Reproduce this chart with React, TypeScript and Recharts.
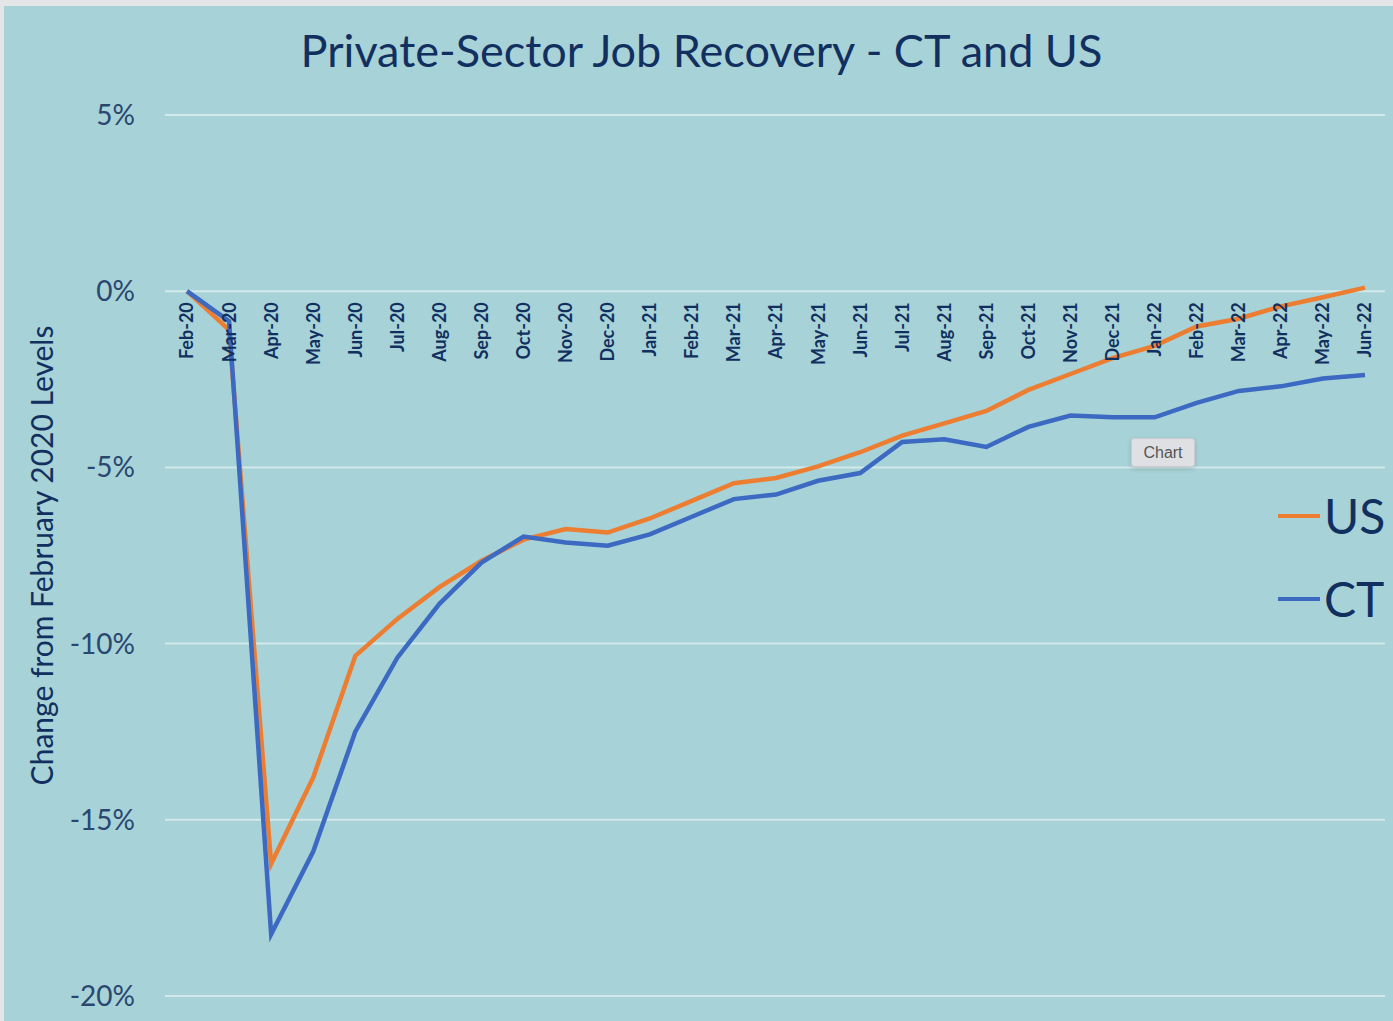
import React from "react";
import {
    LineChart,
    Line,
    XAxis,
    YAxis,
    CartesianGrid,
    Legend,
} from "recharts";

const months = [
    "Feb-20", "Mar-20", "Apr-20", "May-20", "Jun-20", "Jul-20", "Aug-20", "Sep-20",
    "Oct-20", "Nov-20", "Dec-20", "Jan-21", "Feb-21", "Mar-21", "Apr-21", "May-21",
    "Jun-21", "Jul-21", "Aug-21", "Sep-21", "Oct-21", "Nov-21", "Dec-21", "Jan-22",
    "Feb-22", "Mar-22", "Apr-22", "May-22", "Jun-22",
];

// % change from Feb 2020
const usValues = [
    0, -1.1, -16.25, -13.8, -10.35, -9.3, -8.4, -7.65,
    -7.05, -6.75, -6.85, -6.45, -5.95, -5.45, -5.3, -4.97,
    -4.57, -4.1, -3.75, -3.4, -2.8, -2.35, -1.9, -1.55,
    -1.0, -0.78, -0.43, -0.17, 0.1,
];

const ctValues = [
    0, -0.85, -18.25, -15.9, -12.5, -10.4, -8.87, -7.7,
    -6.96, -7.13, -7.22, -6.9, -6.4, -5.9, -5.77, -5.38,
    -5.16, -4.28, -4.2, -4.42, -3.85, -3.53, -3.58, -3.58,
    -3.17, -2.83, -2.7, -2.48, -2.38,
];

const yTicks = [-20, -15, -10, -5, 0, 5];
const legendOrder = ["US", "CT"];
const Y_MIN = -20;
const Y_MAX = 5;

const data = months.map((m, i) => ({ month: m, US: usValues[i], CT: ctValues[i] }));

const NAVY = "#12305f";
const FONT = "Lato, 'Open Sans', sans-serif";
const CHART_W = 1393;
const CHART_H = 1021;
const X_AXIS_H = 1;
const MARGIN = { top: 115, right: 8, bottom: 25 - X_AXIS_H, left: 0 };
const PLOT_H = CHART_H - MARGIN.top - MARGIN.bottom - X_AXIS_H;

// month labels hang just under the 0% line instead of the bottom of the plot
const MonthTick = (props: any) => {
    const { x, y, payload } = props;
    const lift = PLOT_H * ((0 - Y_MIN) / (Y_MAX - Y_MIN));
    const ty = y - lift + 11;
    return (
        <text
            x={x}
            y={ty}
            transform={`rotate(-90, ${x}, ${ty})`}
            textAnchor="end"
            dy="0.36em"
            fontSize={18}
            fontWeight={700}
            fontFamily={FONT}
            fill={NAVY}
        >
            {payload.value}
        </text>
    );
};

const AxisTitle = (props: any) => {
    const { viewBox } = props;
    const cx = 42;
    const cy = viewBox.y + viewBox.height / 2;
    return (
        <text
            x={cx}
            y={cy}
            transform={`rotate(-90, ${cx}, ${cy})`}
            textAnchor="middle"
            dy="0.35em"
            fontSize={30}
            fontFamily={FONT}
            fill={NAVY}
        >
            Change from February 2020 Levels
        </text>
    );
};

const LegendBox = (props: any) => {
    const items = [...(props.payload || [])].sort(
        (a: any, b: any) => legendOrder.indexOf(a.value) - legendOrder.indexOf(b.value)
    );
    return (
        <div>
            {items.map((p: any) => (
                <div
                    key={p.value}
                    style={{ display: "flex", alignItems: "center", height: 83 }}
                >
                    <span
                        style={{
                            display: "inline-block",
                            width: 42,
                            height: 4,
                            background: p.color,
                            marginRight: 4,
                        }}
                    />
                    <span style={{ fontSize: 48, fontFamily: FONT, color: NAVY, lineHeight: "83px" }}>
                        {p.value}
                    </span>
                </div>
            ))}
        </div>
    );
};

export default function App() {
    return (
        <div style={{ position: "relative", width: CHART_W, height: CHART_H, background: "#e3e5e6", overflow: "hidden" }}>
            <style>{`body{margin:0}`}</style>
            <div style={{ position: "absolute", left: 4, top: 6, right: 0, bottom: 0, background: "#a7d2d7" }} />

            <div
                style={{
                    position: "absolute",
                    left: 5,
                    top: 23,
                    width: CHART_W,
                    textAlign: "center",
                    fontFamily: FONT,
                    fontSize: 45,
                    lineHeight: "54px",
                    color: NAVY,
                }}
            >
                Private-Sector Job Recovery - CT and US
            </div>

            <div style={{ position: "absolute", left: 0, top: 0 }}>
                <LineChart width={CHART_W} height={CHART_H} data={data} margin={MARGIN}>
                    <CartesianGrid vertical={false} stroke="#d2e9ec" strokeWidth={2} />
                    <XAxis
                        dataKey="month"
                        height={X_AXIS_H}
                        padding={{ left: 22, right: 20 }}
                        axisLine={false}
                        tickLine={false}
                        tickSize={0}
                        tickMargin={0}
                        interval={0}
                        tick={<MonthTick />}
                    />
                    <YAxis
                        width={165}
                        domain={[Y_MIN, Y_MAX]}
                        ticks={yTicks}
                        axisLine={false}
                        tickLine={false}
                        tickSize={0}
                        tickMargin={30}
                        tickFormatter={(v: number) => `${v}%`}
                        tick={{ fontSize: 28, fill: "#2a4770", fontFamily: FONT }}
                        label={<AxisTitle />}
                    />
                    <Legend
                        layout="vertical"
                        align="center"
                        verticalAlign="middle"
                        content={<LegendBox />}
                        wrapperStyle={{ left: 1278, top: 474, width: 115 }}
                    />
                    <Line
                        type="linear"
                        dataKey="US"
                        stroke="#ed7d31"
                        strokeWidth={4.5}
                        dot={false}
                        isAnimationActive={false}
                    />
                    <Line
                        type="linear"
                        dataKey="CT"
                        stroke="#3c69c1"
                        strokeWidth={4.5}
                        dot={false}
                        isAnimationActive={false}
                    />
                </LineChart>
            </div>

            <div
                style={{
                    position: "absolute",
                    left: 1131,
                    top: 438,
                    width: 64,
                    height: 29,
                    background: "#dfe0e3",
                    border: "1px solid #c9cbce",
                    borderRadius: 3,
                    boxShadow: "0 2px 5px rgba(0,0,0,0.15)",
                    boxSizing: "border-box",
                    fontFamily: "'Liberation Sans', Arial, sans-serif",
                    fontSize: 16,
                    color: "#555",
                    display: "flex",
                    alignItems: "center",
                    justifyContent: "center",
                }}
            >
                Chart
            </div>
        </div>
    );
}
